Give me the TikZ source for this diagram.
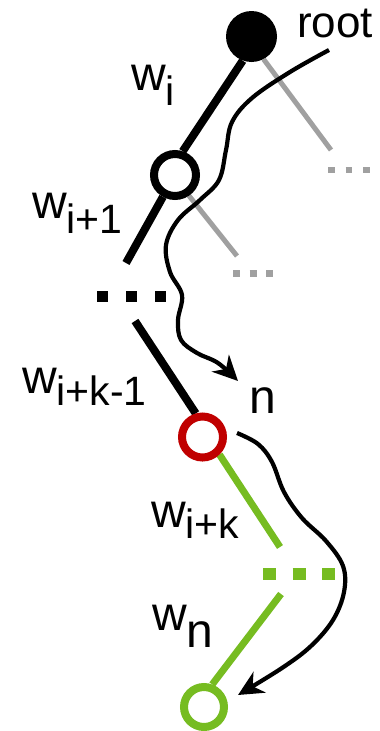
\documentclass[tikz,border=0pt]{standalone}
\usepackage{fontspec}
\setmainfont{Liberation Sans}
\usetikzlibrary{arrows.meta,backgrounds}

\definecolor{pathred}{RGB}{192,0,0}
\definecolor{pathgreen}{RGB}{118,188,33}
\definecolor{sidegray}{RGB}{160,160,160}

% w with a lowered subscript: #1 = subscript, #2 = drop
\newcommand{\wsub}[2]{{\fontsize{48pt}{50pt}\selectfont w}\raisebox{-#2}{\fontsize{41pt}{43pt}\selectfont #1}}

\begin{document}
\begin{tikzpicture}[x=1pt,y=1pt,
  ring/.style={circle,line width=8pt,minimum size=42pt,inner sep=0pt,fill=white},
  lbl/.style={anchor=base west,inner sep=0pt,outer sep=0pt},
  edgeblack/.style={line width=8pt,black},
  edgegray/.style={line width=5pt,sidegray},
  edgegreen/.style={line width=7pt,pathgreen},
  wave/.style={line width=4.2pt,black,-{Stealth[length=25pt,width=24pt,inset=8pt]}}]
\useasboundingbox (0,0) rectangle (380,-731);

% tree nodes
\node[circle,fill=black,minimum size=51pt,inner sep=0pt] (root) at (251.5,-36.5) {};
\node[ring,draw=black,minimum size=42pt] (w1) at (175,-175) {};
\node[ring,draw=pathred,minimum size=41pt] (nk) at (202.5,-437) {};
\node[ring,draw=pathgreen,minimum size=40pt] (nn) at (204,-707) {};

% free ends of the edges
\coordinate (bt1) at (126,-263);
\coordinate (bt2) at (135,-321);
\coordinate (g1) at (331,-150);
\coordinate (g2) at (237,-256);
\coordinate (gg1) at (280,-547);
\coordinate (gg2) at (281,-594);

\begin{scope}[on background layer]
  \draw[edgeblack] (root.250) -- (w1.72);
  \draw[edgeblack] (w1.241) -- (bt1);
  \draw[edgeblack] (bt2) -- (nk.106);
  \draw[edgegray] (root.-62) -- (g1);
  \draw[edgegray] (w1.-56) -- (g2);
  \draw[edgegreen] (nk.-46) -- (gg1);
  \draw[edgegreen] (gg2) -- (nn.70);
\end{scope}

% elided parts of the paths
\draw[line width=11pt,dash pattern=on 11pt off 18pt] (97,-296) -- (166,-296);
\draw[line width=6.5pt,sidegray,dash pattern=on 6.5pt off 11pt] (328,-170) -- (369.5,-170);
\draw[line width=7pt,sidegray,dash pattern=on 7pt off 9.5pt] (233,-273.5) -- (273,-273.5);
\draw[line width=12pt,pathgreen,dash pattern=on 13pt off 16.5pt] (263,-574) -- (335,-574);

% traversal arrows
\coordinate (a1s) at (329,-50);
\coordinate (a1e) at (238,-381);
\coordinate (a2s) at (237,-433);
\coordinate (a2e) at (238,-695);
\draw[wave] plot[smooth,tension=0.6] coordinates {(a1s) (290,-72) (252,-98) (232,-122) (226,-150) (219,-180) (200,-200) (178,-220) (166,-245) (170,-272) (182,-295) (178,-320) (181,-340) (197,-353) (218,-363) (a1e)};
\draw[wave] plot[smooth,tension=0.6] coordinates {(a2s) (258,-444) (272,-462) (284,-492) (302,-518) (326,-541) (343,-566) (344,-592) (333,-620) (311,-646) (282,-668) (a2e)};

% labels
\node[lbl] (troot) at (297,-37) {\fontsize{44pt}{46pt}\selectfont root};
\node[lbl] (twi) at (131,-90) {\wsub{i}{15pt}};
\node[lbl] (twi1) at (32,-218) {\wsub{i+1}{15pt}};
\node[lbl] (twik1) at (22,-393) {\wsub{i+k-1}{12pt}};
\node[lbl] (tn) at (249,-413) {\fontsize{48pt}{50pt}\selectfont n};
\node[lbl] (twik) at (151,-527) {\wsub{i+k}{11pt}};
\node[lbl] (twn) at (152,-630) {{\fontsize{48pt}{50pt}\selectfont w}\raisebox{-17pt}{\fontsize{48pt}{50pt}\selectfont n}};
\end{tikzpicture}
\end{document}
